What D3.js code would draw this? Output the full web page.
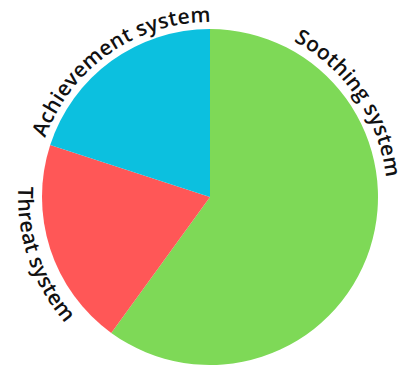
<!DOCTYPE html>
<html>
<head>
<meta charset="utf-8">
<script src="https://cdn.jsdelivr.net/npm/d3@7"></script>
<style>
  html, body { margin: 0; padding: 0; background: #ffffff; }
  svg { display: block; }
</style>
</head>
<body>
<script>
// ---- data ----
const categories = ["Soothing system", "Threat system", "Achievement system"];
const values = [60, 20, 20];
const colors = ["#7ED957", "#FF5757", "#0CC0DF"];

// ---- layout ----
const W = 410, H = 365;
const cx = 210, cy = 197, R = 168;
const fontSize = 21;
// label centre angle (degrees, clockwise from top), radius of baseline path, direction
const labelLayout = [
  { center: 56, r: 177, cw: true },
  { center: 251, r: 192, cw: false },
  { center: -35, r: 175, cw: true }
];

const svg = d3.select("body").append("svg")
  .attr("width", W).attr("height", H);

const g = svg.append("g").attr("transform", `translate(${cx},${cy})`);
const defs = g.append("defs");

const pie = d3.pie().sort(null).value(d => d)(values);
const arc = d3.arc().innerRadius(0).outerRadius(R);

g.selectAll("path.slice")
  .data(pie)
  .join("path")
  .attr("class", "slice")
  .attr("d", arc)
  .attr("fill", (d, i) => colors[i]);

function pt(r, deg) {
  const a = deg * Math.PI / 180;
  return [r * Math.sin(a), -r * Math.cos(a)];
}

labelLayout.forEach((L, i) => {
  const span = 80;
  let a0, a1, sweep;
  if (L.cw) { a0 = L.center - span; a1 = L.center + span; sweep = 1; }
  else { a0 = L.center + span; a1 = L.center - span; sweep = 0; }
  const p0 = pt(L.r, a0), p1 = pt(L.r, a1);
  defs.append("path")
    .attr("id", "lp" + i)
    .attr("d", `M${p0[0]},${p0[1]} A${L.r},${L.r} 0 0 ${sweep} ${p1[0]},${p1[1]}`);
});

g.selectAll("text.lbl")
  .data(categories)
  .join("text")
  .attr("class", "lbl")
  .attr("font-family", "'Open Sans', sans-serif")
  .attr("font-weight", 600)
  .attr("font-size", fontSize)
  .attr("letter-spacing", 0.3)
  .attr("fill", "#111")
  .append("textPath")
  .attr("href", (d, i) => "#lp" + i)
  .attr("startOffset", "50%")
  .attr("text-anchor", "middle")
  .text(d => d);
</script>
</body>
</html>
